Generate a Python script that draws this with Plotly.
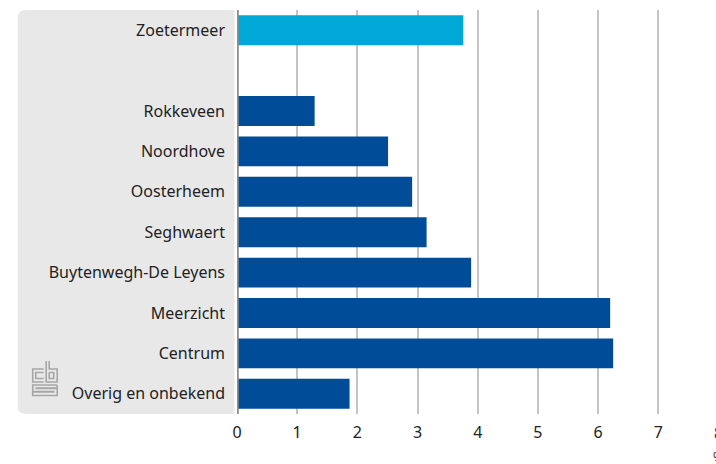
import plotly.graph_objects as go

categories = ["Zoetermeer", " ", "Rokkeveen", "Noordhove", "Oosterheem", "Seghwaert",
              "Buytenwegh-De Leyens", "Meerzicht", "Centrum", "Overig en onbekend"]
values = [3.76, None, 1.29, 2.51, 2.91, 3.15, 3.89, 6.20, 6.25, 1.87]
bar_colors = ["#00a8d8", "#004c99", "#004c99", "#004c99", "#004c99", "#004c99",
              "#004c99", "#004c99", "#004c99", "#004c99"]
x_ticks = [0, 1, 2, 3, 4, 5, 6, 7]
unit_label = "%"

W, H = 716, 464
L, R, T, B = 236.5, 0, 10, 50
PW = W - L - R
PH = H - T - B
XMAX = PW / 60.25  # axis units per px from reference


def px(x):
    return (x - L) / PW


def py(y):
    return (H - B - y) / PH


fig = go.Figure(go.Bar(
    y=categories, x=values, orientation="h",
    marker=dict(color=bar_colors, line=dict(width=0)),
    hoverinfo="x+y",
))

# gray label panel with rounded left corners
r = 8
x0, x1, y0, y1 = 17, 234, 10, 414
path = (f"M {px(x1)},{py(y0)} L {px(x0 + r)},{py(y0)} "
        f"Q {px(x0)},{py(y0)} {px(x0)},{py(y0 + r)} "
        f"L {px(x0)},{py(y1 - r)} Q {px(x0)},{py(y1)} {px(x0 + r)},{py(y1)} "
        f"L {px(x1)},{py(y1)} Z")
shapes = [dict(type="path", xref="paper", yref="paper", path=path,
               fillcolor="#e8e8e8", line=dict(width=0), layer="below")]


def pth(pts, closed=False):
    s = "M " + " L ".join(f"{px(a)},{py(b)}" for a, b in pts)
    return s + (" Z" if closed else "")


logo_col = "#a6a6a6"
logo_paths = [
    # c
    [(43, 369), (32, 369), (32, 382), (43, 382)],
    [(43, 372.5), (35, 372.5), (35, 378.5), (43, 378.5)],
    # b
    [(45.5, 361), (45.5, 382), (56.5, 382), (56.5, 369), (48.5, 369), (48.5, 361)],
    [(48.5, 372.5), (53, 372.5), (53, 378.5), (48.5, 378.5), (48.5, 372.5)],
    # s
    [(56.5, 385), (32, 385), (32, 391.5), (53, 391.5), (53, 392), (32, 392), (32, 395.5),
     (56.5, 395.5), (56.5, 388.5), (35.5, 388.5), (35.5, 388), (56.5, 388), (56.5, 385)],
]
for p in logo_paths:
    shapes.append(dict(type="path", xref="paper", yref="paper", path=pth(p),
                       line=dict(color=logo_col, width=1.6), layer="above"))

# axis line at zero
shapes.append(dict(type="line", xref="x", yref="paper", x0=0, x1=0, y0=0, y1=1,
                   line=dict(color="#8c8c8c", width=3.5), layer="above"))

font_family = "Noto Sans, Open Sans, sans-serif"
txt_col = "#222222"

fig.update_layout(
    width=W, height=H,
    margin=dict(l=L, r=R, t=T, b=B, pad=0),
    paper_bgcolor="white", plot_bgcolor="white",
    bargap=0.26,
    showlegend=False,
    font=dict(family=font_family, size=16, color=txt_col),
    shapes=shapes,
    xaxis=dict(range=[0, XMAX], tickvals=x_ticks, showgrid=True, gridcolor="#c4c4c4",
               gridwidth=1.5, zeroline=False, showline=False, ticks="",
               ticklabelstandoff=7,
               tickfont=dict(size=16, color=txt_col), fixedrange=True),
    yaxis=dict(autorange="reversed", showgrid=False, zeroline=False, showline=False,
               ticks="", ticklabelstandoff=11, tickfont=dict(size=16, color=txt_col),
               fixedrange=True),
    annotations=[
        dict(text="8", xref="paper", yref="paper", x=8 * 60.25 / PW, y=py(433),
             showarrow=False, xanchor="center", yanchor="middle",
             font=dict(size=16, color=txt_col)),
        dict(text=unit_label, xref="paper", yref="paper", x=8 * 60.25 / PW, y=py(456),
             showarrow=False, xanchor="center", yanchor="middle",
             font=dict(size=12, color=txt_col)),
    ],
)

fig.write_html("out.html", config={"displayModeBar": False},
               post_script="document.body.style.margin='0';document.body.style.overflow='hidden';")
